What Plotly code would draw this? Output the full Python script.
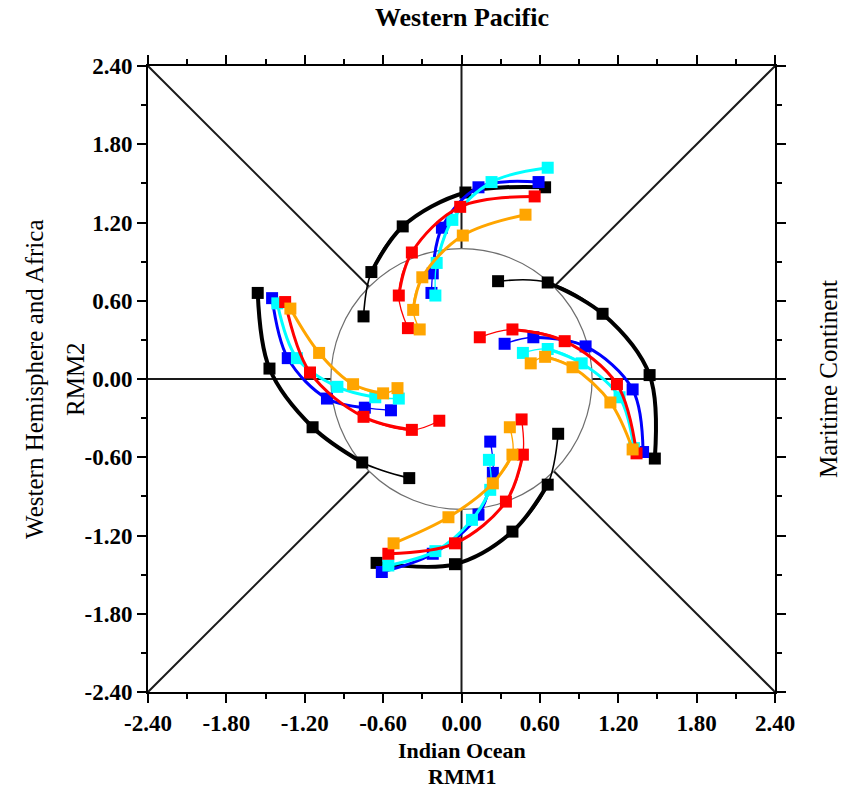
import plotly.graph_objects as go

# ---- data (RMM1, RMM2) : each series has 4 tracks, listed from first to last point ----
black_rmm1 = [[0.64, 0.03, -0.45, -0.69, -0.75],
              [1.48, 1.44, 1.08, 0.66, 0.28],
              [-1.56, -1.47, -1.14, -0.76, -0.40],
              [-0.65, -0.05, 0.39, 0.66, 0.74]]
black_rmm2 = [[1.47, 1.43, 1.17, 0.82, 0.48],
              [-0.61, 0.03, 0.50, 0.74, 0.75],
              [0.66, 0.08, -0.37, -0.64, -0.76],
              [-1.41, -1.42, -1.17, -0.81, -0.42]]

blue_rmm1 = [[0.59, 0.13, -0.15, -0.22, -0.23],
             [1.39, 1.31, 0.95, 0.55, 0.33],
             [-1.45, -1.33, -1.03, -0.74, -0.54],
             [-0.61, -0.22, 0.13, 0.24, 0.22]]
blue_rmm2 = [[1.51, 1.47, 1.16, 0.81, 0.66],
             [-0.56, -0.08, 0.25, 0.32, 0.27],
             [0.62, 0.16, -0.15, -0.22, -0.24],
             [-1.48, -1.34, -1.04, -0.72, -0.48]]

cyan_rmm1 = [[0.66, 0.23, -0.07, -0.19, -0.20],
             [1.32, 1.21, 0.92, 0.66, 0.47],
             [-1.41, -1.26, -0.95, -0.66, -0.48],
             [-0.56, -0.20, 0.08, 0.22, 0.21]]
cyan_rmm2 = [[1.62, 1.51, 1.22, 0.89, 0.64],
             [-0.53, -0.14, 0.12, 0.23, 0.20],
             [0.58, 0.16, -0.06, -0.14, -0.15],
             [-1.43, -1.32, -1.08, -0.85, -0.62]]

red_rmm1 = [[0.56, -0.01, -0.38, -0.48, -0.41],
            [1.34, 1.19, 0.79, 0.39, 0.14],
            [-1.35, -1.16, -0.75, -0.38, -0.17],
            [-0.56, -0.05, 0.34, 0.47, 0.46]]
red_rmm2 = [[1.40, 1.32, 0.97, 0.64, 0.39],
            [-0.57, -0.04, 0.29, 0.38, 0.32],
            [0.59, 0.05, -0.29, -0.39, -0.32],
            [-1.34, -1.26, -0.94, -0.58, -0.31]]

orange_rmm1 = [[0.49, 0.01, -0.30, -0.37, -0.32],
               [1.31, 1.14, 0.85, 0.64, 0.53],
               [-1.31, -1.09, -0.83, -0.60, -0.49],
               [-0.52, -0.10, 0.24, 0.39, 0.37]]
orange_rmm2 = [[1.26, 1.10, 0.78, 0.53, 0.38],
               [-0.54, -0.18, 0.09, 0.17, 0.12],
               [0.54, 0.20, -0.04, -0.11, -0.07],
               [-1.26, -1.06, -0.80, -0.58, -0.37]]

series = [
    ("black", "#000000", black_rmm1, black_rmm2, 4.0, 1.6),
    ("blue", "#0000ff", blue_rmm1, blue_rmm2, 3.0, 1.3),
    ("cyan", "#00ffff", cyan_rmm1, cyan_rmm2, 3.0, 1.3),
    ("red", "#ff0000", red_rmm1, red_rmm2, 3.0, 1.3),
    ("orange", "#ffa500", orange_rmm1, orange_rmm2, 3.0, 1.3),
]

tick_vals = [-2.4, -1.8, -1.2, -0.6, 0.0, 0.6, 1.2, 1.8, 2.4]
tick_text = ["-2.40", "-1.80", "-1.20", "-0.60", "0.00", "0.60", "1.20", "1.80", "2.40"]

fig = go.Figure()

for name, col, xs, ys, wthick, wthin in series:
    for tx, ty in zip(xs, ys):
        fig.add_trace(go.Scatter(x=tx, y=ty, mode="lines",
                                 line=dict(color=col, width=wthin, shape="spline"),
                                 hoverinfo="skip", showlegend=False))
        fig.add_trace(go.Scatter(x=tx[:4], y=ty[:4], mode="lines",
                                 line=dict(color=col, width=wthick, shape="spline"),
                                 hoverinfo="skip", showlegend=False))
        fig.add_trace(go.Scatter(x=tx, y=ty, mode="markers",
                                 marker=dict(symbol="square", size=12, color=col,
                                             line=dict(width=0)),
                                 name=name, showlegend=False))

# background phase-diagram lines
line_style = dict(color="#1a1a1a", width=2)
shapes = []
d = 0.7071
for sx, sy in [(1, 1), (1, -1), (-1, 1), (-1, -1)]:
    shapes.append(dict(type="line", x0=2.4 * sx, y0=2.4 * sy, x1=d * sx, y1=d * sy,
                       xref="x", yref="y", line=line_style, layer="below"))
shapes += [
    dict(type="line", x0=0, y0=1, x1=0, y1=2.4, xref="x", yref="y", line=line_style, layer="below"),
    dict(type="line", x0=0, y0=-1, x1=0, y1=-2.4, xref="x", yref="y", line=line_style, layer="below"),
    dict(type="line", x0=1, y0=0, x1=2.4, y1=0, xref="x", yref="y", line=line_style, layer="below"),
    dict(type="line", x0=-1, y0=0, x1=-2.4, y1=0, xref="x", yref="y", line=line_style, layer="below"),
    dict(type="circle", x0=-1, y0=-1, x1=1, y1=1, xref="x", yref="y",
         line=dict(color="#6e6e6e", width=1.2), layer="below"),
]

font_serif = "Liberation Serif, Times New Roman, serif"
axis_common = dict(
    range=[-2.4, 2.4], tickvals=tick_vals, ticktext=tick_text,
    showgrid=False, zeroline=False, showline=True, linecolor="black", linewidth=2,
    mirror="ticks", ticks="outside", ticklen=9, tickwidth=2, tickcolor="black",
    minor=dict(dtick=0.3, ticks="outside", ticklen=5, tickwidth=2, tickcolor="black"),
    tickfont=dict(family=font_serif, size=23, color="black", weight="bold"),
    fixedrange=True,
)

fig.update_layout(
    width=848, height=788,
    margin=dict(l=148, r=73, t=66, b=96),
    paper_bgcolor="white", plot_bgcolor="white",
    xaxis=dict(**axis_common),
    yaxis=dict(**axis_common),
    shapes=shapes,
    showlegend=False,
    annotations=[
        dict(text="<b>Western Pacific</b>", x=0.5, y=1.0767, xref="paper", yref="paper",
             showarrow=False, font=dict(family=font_serif, size=26, color="black"),
             xanchor="center", yanchor="middle"),
        dict(text="<b>Indian Ocean</b>", x=0.5, y=-0.0927, xref="paper", yref="paper",
             showarrow=False, font=dict(family=font_serif, size=22, color="black"),
             xanchor="center", yanchor="middle"),
        dict(text="<b>RMM1</b>", x=0.5, y=-0.1342, xref="paper", yref="paper",
             showarrow=False, font=dict(family=font_serif, size=22, color="black"),
             xanchor="center", yanchor="middle"),
        dict(text="RMM2", x=-0.1164, y=0.5, xref="paper", yref="paper", textangle=-90,
             showarrow=False, font=dict(family=font_serif, size=25, color="black"),
             xanchor="center", yanchor="middle"),
        dict(text="Western Hemisphere and Africa", x=-0.182, y=0.5, xref="paper", yref="paper",
             textangle=-90, showarrow=False,
             font=dict(family=font_serif, size=25, color="black"),
             xanchor="center", yanchor="middle"),
        dict(text="Maritime Continent", x=1.0845, y=0.5, xref="paper", yref="paper",
             textangle=-90, showarrow=False,
             font=dict(family=font_serif, size=25, color="black"),
             xanchor="center", yanchor="middle"),
    ],
)

fig.write_html("out.html")
